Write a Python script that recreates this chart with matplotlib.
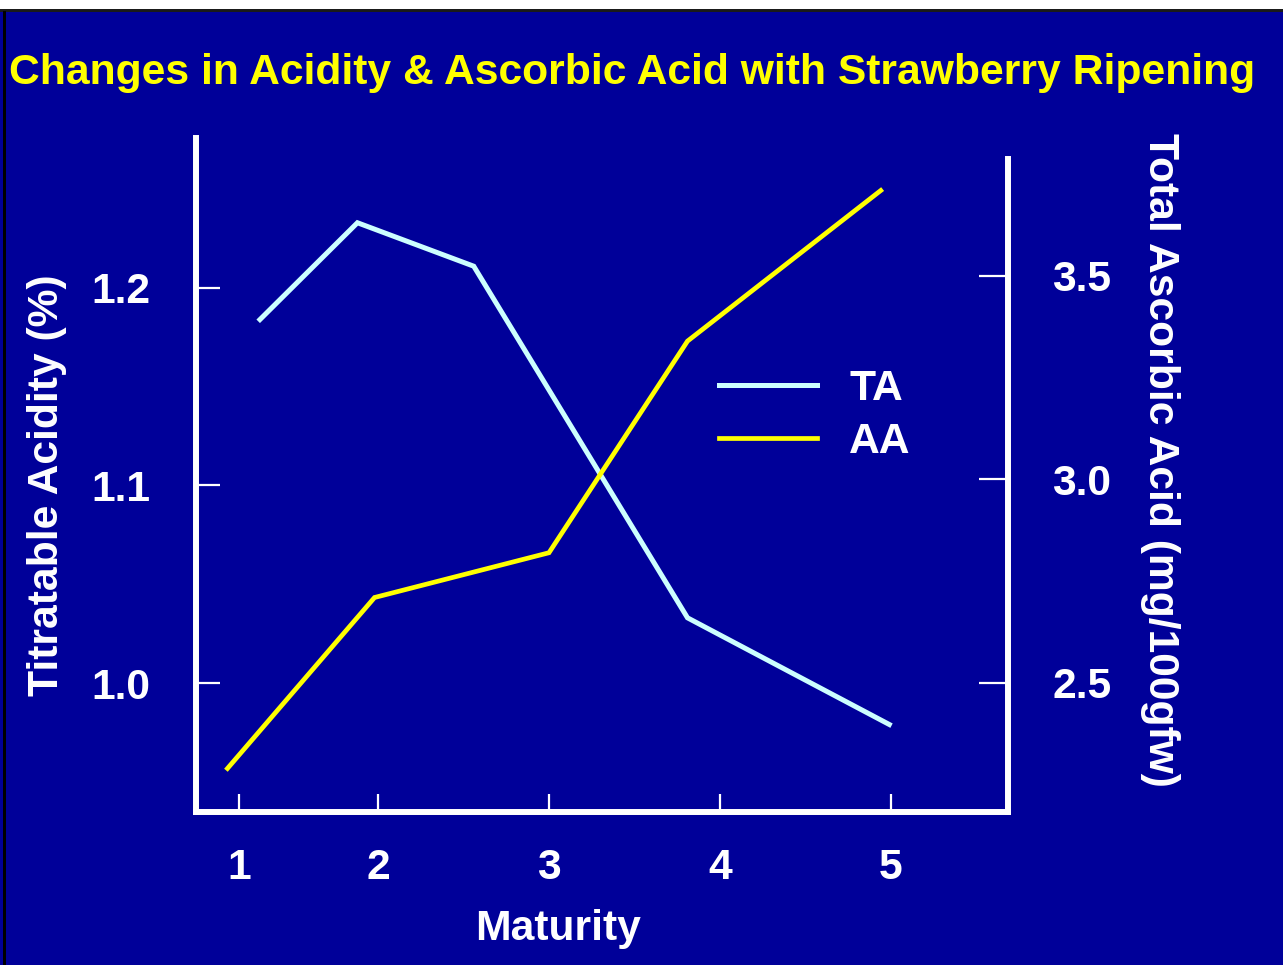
import matplotlib
matplotlib.use("Agg")
import matplotlib.pyplot as plt
from matplotlib.patches import Rectangle

# ---- data ----
maturity_tick_pos = [1.19, 2, 3, 4, 5]
maturity_tick_labels = ["1", "2", "3", "4", "5"]

ta_x = [1.31, 1.88, 2.56, 3.81, 4.99]
ta_y = [1.184, 1.233, 1.211, 1.033, 0.979]

aa_x = [1.12, 1.98, 3.00, 3.81, 4.94]
aa_y = [2.29, 2.71, 2.82, 3.34, 3.71]

ta_ticks = [1.0, 1.1, 1.2]
ta_tick_labels = ["1.0", "1.1", "1.2"]
aa_ticks = [2.5, 3.0, 3.5]
aa_tick_labels = ["2.5", "3.0", "3.5"]

title = "Changes in Acidity & Ascorbic Acid with Strawberry Ripening"
xlabel = "Maturity"
ylabel_left = "Titratable Acidity (%)"
ylabel_right = "Total Ascorbic Acid (mg/100gfw)"

# ---- style ----
BG = "#000099"
TA_COLOR = "#CCFFFF"
AA_COLOR = "#FFFF00"
FONT = "Liberation Sans"
FS = 30.7

plt.rcParams["font.family"] = [FONT, "DejaVu Sans"]
plt.rcParams["font.weight"] = "bold"

W, H = 1283, 965
fig = plt.figure(figsize=(W / 100, H / 100), dpi=100, facecolor="white")

# slide background + frame
fig.patches.append(Rectangle((0, 0), 1, (H - 11) / H, transform=fig.transFigure,
                             facecolor=BG, edgecolor="none", zorder=-10))
fig.patches.append(Rectangle((0, (H - 12) / H), 1, 3 / H, transform=fig.transFigure,
                             facecolor="#1a1a1a", edgecolor="none", zorder=-9))
fig.patches.append(Rectangle((3 / W, 0), 3 / W, (H - 11) / H, transform=fig.transFigure,
                             facecolor="black", edgecolor="none", zorder=-9))

# axes box in pixels
x0, x1 = 196, 1008
ytop, ybot = 138, 812
ax = fig.add_axes([x0 / W, (H - ybot) / H, (x1 - x0) / W, (ybot - ytop) / H])
ax.patch.set_visible(False)
ax2 = ax.twinx()
ax2.patch.set_visible(False)

ax.set_xlim(0.936, 5.684)
ax.set_ylim(0.9347, 1.2759)
ax2.set_ylim(2.183, 3.839)

l1, = ax.plot(ta_x, ta_y, color=TA_COLOR, lw=3.6, solid_joinstyle="miter")
l2, = ax2.plot(aa_x, aa_y, color=AA_COLOR, lw=3.4, solid_joinstyle="miter")

# spines
for a in (ax, ax2):
    for s in a.spines.values():
        s.set_color("white")
        s.set_linewidth(4.3)
ax.spines["top"].set_visible(False)
ax.spines["right"].set_visible(False)
ax2.spines["top"].set_visible(False)
ax2.spines["left"].set_visible(False)
ax2.spines["bottom"].set_visible(False)
ax2.spines["right"].set_bounds(2.183, 3.787)

# ticks
ax.set_xticks(maturity_tick_pos, maturity_tick_labels)
ax.set_yticks(ta_ticks, ta_tick_labels)
ax2.set_yticks(aa_ticks, aa_tick_labels)

ax.tick_params(axis="x", direction="in", length=13, width=1.6, color="white",
               labelcolor="white", labelsize=FS, pad=26)
ax.tick_params(axis="y", direction="in", length=17, width=1.6, color="white",
               labelcolor="white", labelsize=FS, pad=33)
ax2.tick_params(axis="y", direction="in", length=21, width=1.6, color="white",
                labelcolor="white", labelsize=FS, pad=32)
for lab in ax.get_xticklabels() + ax.get_yticklabels() + ax2.get_yticklabels():
    lab.set_fontweight("bold")

# axis labels
ax.set_xlabel(xlabel, color="white", fontsize=FS, fontweight="bold")
ax.xaxis.label.set_va("center")
ax.xaxis.set_label_coords((558 - x0) / (x1 - x0), (ybot - 929) / (ybot - ytop))

ax.set_ylabel(ylabel_left, color="white", fontsize=FS, fontweight="bold")
ax.yaxis.label.set_va("center")
ax.yaxis.set_label_coords((47 - x0) / (x1 - x0), (ybot - 485) / (ybot - ytop))

ax2.set_ylabel(ylabel_right, color="white", fontsize=FS, fontweight="bold", rotation=270)
ax2.yaxis.label.set_va("center")
ax2.yaxis.set_label_coords((1160 - x0) / (x1 - x0), (ybot - 460) / (ybot - ytop))

# title
fig.text(632 / W, 1 - 73 / H, title, color=AA_COLOR, fontsize=FS, fontweight="bold",
         ha="center", va="center")

# legend
leg = ax.legend([l1, l2], ["TA", "AA"], loc="upper left",
                bbox_to_anchor=(719 / W, 1 - 369 / H), bbox_transform=fig.transFigure,
                frameon=False, handlelength=2.3, handletextpad=0.75,
                labelspacing=0.31, borderpad=0, borderaxespad=0,
                prop={"family": FONT, "weight": "bold", "size": FS})
for t in leg.get_texts():
    t.set_color("white")

fig.savefig("out.png", dpi=100, facecolor=fig.get_facecolor())
